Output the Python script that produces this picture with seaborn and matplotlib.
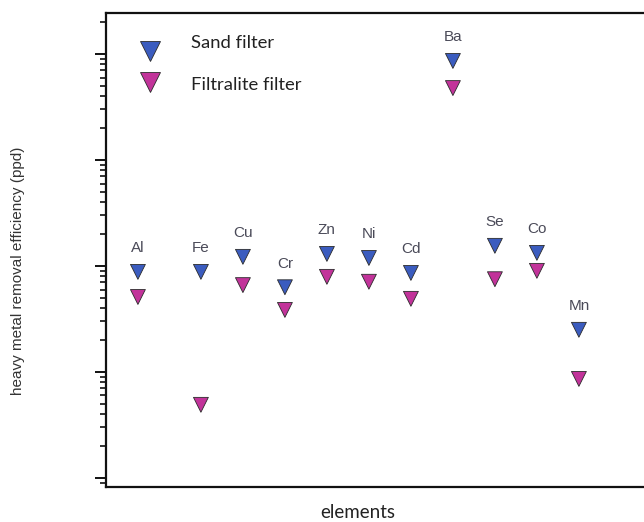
import numpy as np
import pandas as pd
import matplotlib
matplotlib.use("Agg")
import matplotlib.pyplot as plt
from matplotlib.ticker import LogLocator, NullFormatter
import seaborn as sns

# Removal efficiency per element for the two filter media
elements = ["Al", "Fe", "Cu", "Cr", "Zn", "Ni", "Cd", "Ba", "Se", "Co", "Mn"]
sand_filter = [0.88, 0.88, 1.22, 0.63, 1.30, 1.19, 0.86, 86.0, 1.55, 1.33, 0.25]
filtralite_filter = [0.51, 0.049, 0.66, 0.385, 0.79, 0.71, 0.49, 47.7, 0.75, 0.90, 0.086]
series_names = ["Sand filter", "Filtralite filter"]

sns.set_theme(style="ticks")
plt.rcParams["font.family"] = ["Liberation Sans", "DejaVu Sans"]

# Element positions: a wider gap after the first element
idx = np.arange(len(elements))
xpos = idx + np.where(idx > 0, 0.5, 0.0)

df = pd.DataFrame({
    "element": elements * 2,
    "x": np.concatenate([xpos, xpos]),
    "value": sand_filter + filtralite_filter,
    "filter": [series_names[0]] * len(elements) + [series_names[1]] * len(elements),
})

colors = {series_names[0]: "#3b5cbf", series_names[1]: "#c2339a"}
edge = "#2b2b2b"

fig = plt.figure(figsize=(6.44, 5.22), dpi=100)
ax = fig.add_axes([106 / 644, 1 - 487 / 522, 1 - 106 / 644, (487 - 13) / 522])

sns.scatterplot(data=df, x="x", y="value", hue="filter", palette=colors,
                marker="v", s=115, edgecolor=edge, linewidth=0.6,
                legend=False, ax=ax, zorder=3)

ax.set_yscale("log")
ax.set_ylim(0.00822, 243.7)
ax.set_xlim(-0.76, 12.05)

# Element labels above the sand-filter markers
for x, v, name in zip(xpos, sand_filter, elements):
    ax.annotate(name, (x, v), xytext=(0, 17), textcoords="offset points",
                ha="center", va="center", fontsize=11, color="#4a4a58")

# Axis styling
ax.spines["right"].set_visible(False)
for side in ("left", "bottom", "top"):
    ax.spines[side].set_linewidth(1.6)
    ax.spines[side].set_color("#111111")
ax.set_xticks([])
ax.yaxis.set_major_locator(LogLocator(base=10, numticks=10))
ax.yaxis.set_minor_locator(LogLocator(base=10, subs=np.arange(2, 10), numticks=20))
ax.yaxis.set_major_formatter(NullFormatter())
ax.yaxis.set_minor_formatter(NullFormatter())
ax.tick_params(axis="y", which="major", direction="out", length=8, width=1.4, color="#111111")
ax.tick_params(axis="y", which="minor", direction="out", length=4.5, width=1.2, color="#111111")
ax.set_xlabel("")
ax.set_ylabel("")

# Key in the upper-left corner
key_rows = [(series_names[0], 50.5, 43.5), (series_names[1], 82.0, 85.5)]
for name, marker_y, text_y in key_rows:
    ax.plot((150 - 106) / 538, (487 - marker_y) / 474, transform=ax.transAxes,
            marker="v", markersize=15, linestyle="none",
            markerfacecolor=colors[name], markeredgecolor=edge,
            markeredgewidth=0.6, clip_on=False)
    ax.text((191 - 106) / 538, (487 - text_y) / 474, name, transform=ax.transAxes,
            ha="left", va="center", fontsize=13.3, family="Lato", color="#222222")

fig.text(358 / 644, 1 - 513 / 522, "elements", ha="center", va="center",
         fontsize=13.5, family="Lato", color="#222222")
fig.text(18 / 644, 1 - 271 / 522, "heavy metal removal efficiency (ppd)",
         rotation=90, ha="center", va="center", fontsize=11, color="#333333")

fig.savefig("out.png", dpi=100)
